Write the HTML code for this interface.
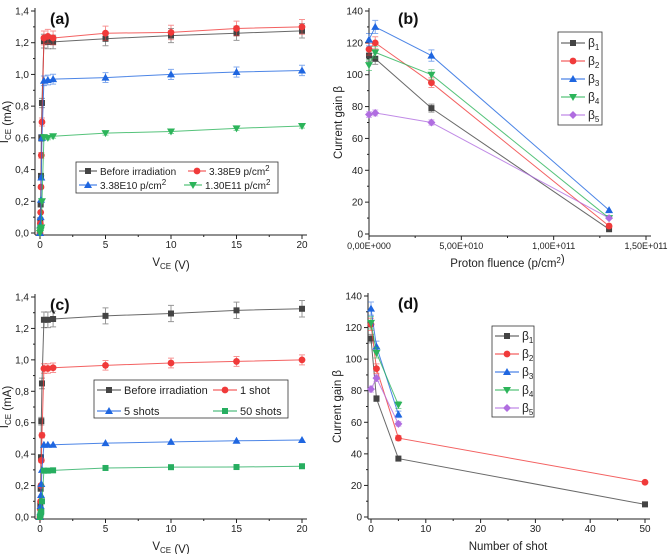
<!DOCTYPE html>
<html><head><meta charset="utf-8"><style>
html,body{margin:0;padding:0;background:#fff;}
svg{display:block;font-family:"Liberation Sans",Arial,sans-serif;}
</style></head><body>
<svg id="fig" width="669" height="554" viewBox="0 0 669 554" xmlns="http://www.w3.org/2000/svg"></svg>
<script>
// ---------- data ----------
const vce = [0,0.025,0.05,0.075,0.1,0.15,0.3,0.6,1,5,10,15,20];
const aBefore = [0,0.08,0.18,0.36,0.6,0.82,1.21,1.205,1.205,1.225,1.245,1.26,1.275];
const a338e9 = [0,0.06,0.13,0.29,0.49,0.7,1.23,1.24,1.23,1.26,1.265,1.29,1.30];
const a338e10 = [0,0.05,0.1,0.21,0.35,0.6,0.96,0.965,0.97,0.98,1.0,1.015,1.025];
const a130e11 = [0,0.01,0.02,0.03,0.035,0.2,0.605,0.6,0.61,0.63,0.64,0.66,0.675];
const cBefore = [0,0.08,0.18,0.38,0.61,0.85,1.255,1.255,1.26,1.28,1.295,1.315,1.325];
const c1shot = [0,0.05,0.1,0.2,0.36,0.52,0.945,0.945,0.95,0.965,0.98,0.99,1.0];
const c5shots = [0,0.03,0.07,0.14,0.21,0.3,0.46,0.46,0.46,0.47,0.478,0.485,0.49];
const c50shots = [0,0.01,0.02,0.03,0.035,0.1,0.295,0.295,0.297,0.312,0.317,0.318,0.323];
const fluence = [0,3.38e9,3.38e10,1.3e11];
const bB1 = [112,110,79,3];
const bB2 = [116,120,95,5];
const bB3 = [122,130,112,15];
const bB4 = [106,114,100,10];
const bB5 = [75,76,70,10];
const shots = [0,1,5,50];
const dB1 = [113,75,37,8];
const dB2 = [122,94,50,22];
const dB3 = [132,108,65,null];
const dB4 = [123,104,71,null];
const dB5 = [81,88,59,null];
const ivTicksY = ["0,0","0,2","0,4","0,6","0,8","1,0","1,2","1,4"];
const ivTicksX = ["0","5","10","15","20"];
const betaTicksY = ["0","20","40","60","80","100","120","140"];
const fluenceTicks = ["0,00E+000","5,00E+010","1,00E+011","1,50E+011"];
const shotTicks = ["0","10","20","30","40","50"];

const C = {k:'#444',r:'#f03a3a',b:'#1f66e0',g:'#2cb45a',g2:'#27ae60',p:'#b06de0'};
const svg = document.getElementById('fig');
const NS='http://www.w3.org/2000/svg';
function el(tag, attrs, parent, text){
  const e=document.createElementNS(NS,tag);
  for(const k in attrs) e.setAttribute(k,attrs[k]);
  if(text!==undefined) e.textContent=text;
  (parent||svg).appendChild(e); return e;
}
function marker(g, shape, x, y, col){
  let m;
  if(shape==='sq') m=el('rect',{x:x-3,y:y-3,width:6,height:6,fill:col},g);
  else if(shape==='ci') m=el('circle',{cx:x,cy:y,r:3.4,fill:col},g);
  else if(shape==='tu') m=el('polygon',{points:`${x},${y-4} ${x-4},${y+3} ${x+4},${y+3}`,fill:col},g);
  else if(shape==='td') m=el('polygon',{points:`${x},${y+4} ${x-4},${y-3} ${x+4},${y-3}`,fill:col},g);
  else if(shape==='di') m=el('polygon',{points:`${x},${y-4} ${x+4},${y} ${x},${y+4} ${x-4},${y}`,fill:col},g);
  
  
}
function panel(o){
  const g=el('g',{});
  
  
  const sx=v=>o.x0+(v-o.xmin)/(o.xmax-o.xmin)*(o.x1-o.x0);
  const sy=v=>o.y0-(v-o.ymin)/(o.ymax-o.ymin)*(o.y0-o.y1);
  const ax=el('g',{stroke:'#222','stroke-width':1},g);
  
  
  el('line',{x1:o.axL,y1:o.y0+2,x2:o.axL,y2:o.y1-3},ax);
  el('line',{x1:o.axL,y1:o.y0+2,x2:o.x1+5,y2:o.y0+2},ax);
  const tfs=o.tfs||10;
  o.yt.forEach((t,i)=>{const v=o.ymin+i*o.ystep,y=sy(v);
    el('line',{x1:o.axL-4,y1:y,x2:o.axL,y2:y},ax);
    if(i<o.yt.length-1) el('line',{x1:o.axL-2,y1:sy(v+o.ystep/2),x2:o.axL,y2:sy(v+o.ystep/2)},ax);
    const tl=el('text',{x:o.axL-6,y:y+3.5,'text-anchor':'end','font-size':10,fill:'#222'},g,t);
    
    
  });
  o.xt.forEach((t,i)=>{const v=o.xmin+i*o.xstep,x=sx(v);
    el('line',{x1:x,y1:o.y0+2,x2:x,y2:o.y0+6},ax);
    if(i<o.xt.length-1) el('line',{x1:sx(v+o.xstep/2),y1:o.y0+2,x2:sx(v+o.xstep/2),y2:o.y0+4},ax);
    const tl=el('text',{x:x,y:o.y0+15,'text-anchor':'middle','font-size':tfs,fill:'#222'},g,t);
    
    
  });
  const xt=el('text',{x:(o.x0+o.x1)/2,y:o.y0+33,'text-anchor':'middle','font-size':11.5,fill:'#222'},g);
  xt.innerHTML=o.xtitle;
  
  
  const yt=el('text',{x:0,y:0,'text-anchor':'middle','font-size':11.5,fill:'#222',transform:`translate(${o.axL-27},${(o.y0+o.y1)/2}) rotate(-90)`},g);
  yt.innerHTML=o.ytitle;
  
  
  const pl=el('text',{x:o.lblX,y:o.y1+13,'font-size':16,'font-weight':'bold',fill:'#111'},g,o.label);
  
  
  o.series.forEach(s=>{
    const sg=el('g',{},g);
    
    
    const pts=[];
    s.y.forEach((v,i)=>{if(v!==null&&v!==undefined) pts.push([sx(o.xs[i]),sy(v),v]);});
    el('polyline',{points:pts.map(p=>p[0]+','+p[1]).join(' '),fill:'none',stroke:s.c,'stroke-width':1,'stroke-opacity':0.8},sg);
    pts.forEach(p=>{
      if(s.err){const e=s.err*(o.y0-o.y1)/(o.ymax-o.ymin)*(p[2]/ (o.ymax*0.9));
        if(e>1.5){el('path',{d:`M${p[0]},${p[1]-e}V${p[1]+e}M${p[0]-3},${p[1]-e}H${p[0]+3}M${p[0]-3},${p[1]+e}H${p[0]+3}`,stroke:s.c,'stroke-opacity':0.55,'stroke-width':1,fill:'none'},sg);}
      }
      marker(sg,s.m,p[0],p[1],s.c);
    });
  });
  // legend
  const L=o.leg; const lg=el('g',{},g);
  
  
  el('rect',{x:L.x,y:L.y,width:L.w,height:L.h,fill:'#fff',stroke:'#333','stroke-width':0.8},lg);
  const ll=L.ll||24;
  L.items.forEach(it=>{
    const ig=el('g',{},lg);
    
    
    el('line',{x1:it.x,y1:it.y,x2:it.x+ll,y2:it.y,stroke:it.c,'stroke-width':1},ig);
    marker(ig,it.m,it.x+ll/2,it.y,it.c);
    const t=el('text',{x:it.x+ll+3,y:it.y+4,'font-size':it.fs||11,fill:'#222'},ig);
    t.innerHTML=it.t;
  });
}
const sub=s=>`<tspan font-size="8" dy="3">${s}</tspan><tspan dy="-3"></tspan>`;
const sup=s=>`<tspan font-size="8" dy="-4">${s}</tspan><tspan dy="4"></tspan>`;
const beta=i=>`β${sub(i)}`;

panel({name:'panel-a',label:'(a)',lblX:50,x0:40,x1:302,y0:233,y1:11,axL:35,xmin:0,xmax:20,xstep:5,ymin:0,ymax:1.4,ystep:0.2,
  xs:vce,xt:ivTicksX,yt:ivTicksY,xtitle:`V${sub('CE')} (V)`,ytitle:`I${sub('CE')} (mA)`,
  series:[{key:'before',y:aBefore,c:C.k,m:'sq',err:0.045},{key:'3.38e9',y:a338e9,c:C.r,m:'ci',err:0.045},
          {key:'3.38e10',y:a338e10,c:C.b,m:'tu',err:0.04},{key:'1.30e11',y:a130e11,c:C.g,m:'td',err:0.025}],
  leg:{x:76,y:162,w:202,h:31,ll:18,items:[
    {x:79,y:171,c:C.k,m:'sq',t:'Before irradiation',fs:10},{x:188,y:171,c:C.r,m:'ci',t:`3.38E9 p/cm${sup(2)}`,fs:10},
    {x:79,y:185,c:C.b,m:'tu',t:`3.38E10 p/cm${sup(2)}`,fs:10},{x:184,y:185,c:C.g,m:'td',t:`1.30E11 p/cm${sup(2)}`,fs:10}]}
});
panel({name:'panel-b',label:'(b)',lblX:398,x0:369,x1:646,y0:234,y1:11,axL:369,xmin:0,xmax:1.5e11,xstep:5e10,ymin:0,ymax:140,ystep:20,tfs:9,
  xs:fluence,xt:fluenceTicks,yt:betaTicksY,xtitle:`Proton fluence (p/cm${sup(2)})`,ytitle:'Current gain β',
  series:[{key:'beta1',y:bB1,c:C.k,m:'sq',err:4},{key:'beta2',y:bB2,c:C.r,m:'ci',err:4},{key:'beta3',y:bB3,c:C.b,m:'tu',err:4},
          {key:'beta4',y:bB4,c:C.g,m:'td',err:4},{key:'beta5',y:bB5,c:C.p,m:'di',err:3}],
  leg:{x:558,y:32,w:44,h:93,items:[1,2,3,4,5].map((i,k)=>({x:561,y:43+k*18,c:[C.k,C.r,C.b,C.g,C.p][k],m:['sq','ci','tu','td','di'][k],t:beta(i),fs:12}))}
});
panel({name:'panel-c',label:'(c)',lblX:50,x0:40,x1:302,y0:517,y1:297,axL:35,xmin:0,xmax:20,xstep:5,ymin:0,ymax:1.4,ystep:0.2,
  xs:vce,xt:ivTicksX,yt:ivTicksY,xtitle:`V${sub('CE')} (V)`,ytitle:`I${sub('CE')} (mA)`,
  series:[{key:'before',y:cBefore,c:C.k,m:'sq',err:0.05},{key:'1shot',y:c1shot,c:C.r,m:'ci',err:0.04},
          {key:'5shots',y:c5shots,c:C.b,m:'tu',err:0.015},{key:'50shots',y:c50shots,c:C.g2,m:'sq',err:0.008}],
  leg:{x:94,y:380,w:194,h:38,items:[
    {x:97,y:390,c:C.k,m:'sq',t:'Before irradiation'},{x:213,y:390,c:C.r,m:'ci',t:'1 shot'},
    {x:97,y:411,c:C.b,m:'tu',t:'5 shots'},{x:213,y:411,c:C.g2,m:'sq',t:'50 shots'}]}
});
panel({name:'panel-d',label:'(d)',lblX:398,x0:371,x1:645,y0:517,y1:296,axL:368,xmin:0,xmax:50,xstep:10,ymin:0,ymax:140,ystep:20,
  xs:shots,xt:shotTicks,yt:betaTicksY,xtitle:'Number of shot',ytitle:'Current gain β',
  series:[{key:'beta1',y:dB1,c:C.k,m:'sq',err:3},{key:'beta2',y:dB2,c:C.r,m:'ci',err:4},{key:'beta3',y:dB3,c:C.b,m:'tu',err:4},
          {key:'beta4',y:dB4,c:C.g,m:'td',err:4},{key:'beta5',y:dB5,c:C.p,m:'di',err:3}],
  leg:{x:492,y:326,w:42,h:91,items:[1,2,3,4,5].map((i,k)=>({x:495,y:336+k*18,c:[C.k,C.r,C.b,C.g,C.p][k],m:['sq','ci','tu','td','di'][k],t:beta(i),fs:12}))}
});
</script>
</body></html>
